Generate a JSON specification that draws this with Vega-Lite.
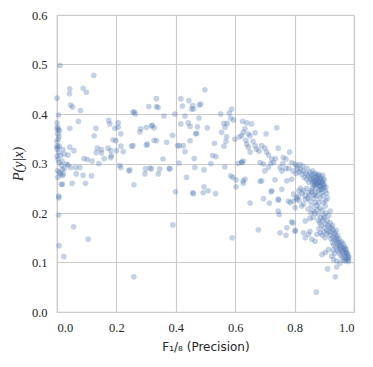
{
"$schema": "https://vega.github.io/schema/vega-lite/v6.json",
"width": 297, "height": 297,
"autosize": {"type": "none"},
"padding": {"left": 57, "top": 15, "right": 19, "bottom": 55},
"background": "white",
"config": {
 "view": {"stroke": "#cccccc", "strokeWidth": 1.25},
 "axis": {"domain": false, "ticks": false, "grid": true, "gridColor": "#cccccc", "gridWidth": 1.2,
  "labelColor": "#262626", "titleColor": "#262626", "titleFontWeight": "normal"}
},
"data": {"values": [
{"x":0.01,"y":0.498},{"x":0.0,"y":0.432},{"x":0.005,"y":0.398},{"x":0.0,"y":0.382},{"x":0.003,"y":0.373},{"x":0.008,"y":0.366},{"x":0.002,"y":0.36},{"x":0.007,"y":0.355},{"x":0.004,"y":0.349},{"x":0.005,"y":0.368},{"x":0.0,"y":0.37},{"x":0.008,"y":0.335},{"x":0.003,"y":0.333},{"x":0.0,"y":0.329},{"x":0.006,"y":0.322},{"x":0.0,"y":0.315},{"x":0.003,"y":0.309},{"x":0.007,"y":0.302},{"x":0.002,"y":0.285},{"x":0.008,"y":0.282},{"x":0.003,"y":0.272},{"x":0.012,"y":0.279},{"x":0.018,"y":0.258},{"x":0.006,"y":0.234},{"x":0.006,"y":0.231},{"x":0.005,"y":0.196},{"x":0.007,"y":0.134},{"x":0.023,"y":0.112},{"x":0.0,"y":0.335},{"x":0.0,"y":0.345},
{"x":0.124,"y":0.478},{"x":0.043,"y":0.451},{"x":0.042,"y":0.441},{"x":0.088,"y":0.452},{"x":0.099,"y":0.444},{"x":0.046,"y":0.418},{"x":0.052,"y":0.414},{"x":0.079,"y":0.407},{"x":0.072,"y":0.385},{"x":0.043,"y":0.371},{"x":0.131,"y":0.371},{"x":0.125,"y":0.356},{"x":0.136,"y":0.331},{"x":0.132,"y":0.322},{"x":0.043,"y":0.333},{"x":0.057,"y":0.326},{"x":0.02,"y":0.328},{"x":0.15,"y":0.328},{"x":0.172,"y":0.331},{"x":0.181,"y":0.326},{"x":0.2,"y":0.326},{"x":0.215,"y":0.335},{"x":0.223,"y":0.324},{"x":0.012,"y":0.316},{"x":0.024,"y":0.319},{"x":0.037,"y":0.317},{"x":0.15,"y":0.321},{"x":0.159,"y":0.31},{"x":0.181,"y":0.312},{"x":0.091,"y":0.31},{"x":0.102,"y":0.308},{"x":0.118,"y":0.305},{"x":0.141,"y":0.3},{"x":0.017,"y":0.305},{"x":0.015,"y":0.297},{"x":0.032,"y":0.299},{"x":0.046,"y":0.292},{"x":0.037,"y":0.297},{"x":0.025,"y":0.29},{"x":0.063,"y":0.292},{"x":0.077,"y":0.292},{"x":0.018,"y":0.288},{"x":0.021,"y":0.279},{"x":0.018,"y":0.276},{"x":0.065,"y":0.279},{"x":0.088,"y":0.276},{"x":0.116,"y":0.275},{"x":0.015,"y":0.258},{"x":0.051,"y":0.26},{"x":0.096,"y":0.26},{"x":0.056,"y":0.172},{"x":0.105,"y":0.147},{"x":0.174,"y":0.387},{"x":0.178,"y":0.38},{"x":0.206,"y":0.382},{"x":0.195,"y":0.371},{"x":0.206,"y":0.373},{"x":0.215,"y":0.36},{"x":0.189,"y":0.348},{"x":0.198,"y":0.346},{"x":0.183,"y":0.316},{"x":0.215,"y":0.292},{"x":0.211,"y":0.296},{"x":0.242,"y":0.285},{"x":0.245,"y":0.287},{"x":0.251,"y":0.335},{"x":0.256,"y":0.336},{"x":0.259,"y":0.257},{"x":0.259,"y":0.071},{"x":0.256,"y":0.404},{"x":0.26,"y":0.404},{"x":0.264,"y":0.4},{"x":0.279,"y":0.364},{"x":0.282,"y":0.37},{"x":0.301,"y":0.373},{"x":0.318,"y":0.376},{"x":0.321,"y":0.377},{"x":0.327,"y":0.372},{"x":0.309,"y":0.415},{"x":0.335,"y":0.431},{"x":0.335,"y":0.415},{"x":0.34,"y":0.413},{"x":0.36,"y":0.396},{"x":0.301,"y":0.337},{"x":0.304,"y":0.339},{"x":0.327,"y":0.347},{"x":0.335,"y":0.346},{"x":0.369,"y":0.343},{"x":0.389,"y":0.357},{"x":0.357,"y":0.309},{"x":0.313,"y":0.291},{"x":0.318,"y":0.289},{"x":0.298,"y":0.289},{"x":0.296,"y":0.279},{"x":0.346,"y":0.289},{"x":0.341,"y":0.279},{"x":0.378,"y":0.29},{"x":0.397,"y":0.4},{"x":0.417,"y":0.431},{"x":0.422,"y":0.416},{"x":0.431,"y":0.396},{"x":0.417,"y":0.38},{"x":0.406,"y":0.336},{"x":0.412,"y":0.336},{"x":0.425,"y":0.336},{"x":0.431,"y":0.324},{"x":0.411,"y":0.301},{"x":0.444,"y":0.427},{"x":0.457,"y":0.417},{"x":0.46,"y":0.41},{"x":0.453,"y":0.41},{"x":0.442,"y":0.382},{"x":0.448,"y":0.375},{"x":0.448,"y":0.346},{"x":0.467,"y":0.36},{"x":0.47,"y":0.361},{"x":0.462,"y":0.31},{"x":0.436,"y":0.272},{"x":0.399,"y":0.243},{"x":0.39,"y":0.176},{"x":0.457,"y":0.241},{"x":0.479,"y":0.418},{"x":0.484,"y":0.42},{"x":0.478,"y":0.392},{"x":0.498,"y":0.449},{"x":0.473,"y":0.374},{"x":0.506,"y":0.372},{"x":0.464,"y":0.292},{"x":0.495,"y":0.287},{"x":0.518,"y":0.3},{"x":0.53,"y":0.341},{"x":0.524,"y":0.316},{"x":0.535,"y":0.314},{"x":0.495,"y":0.253},{"x":0.509,"y":0.245},{"x":0.492,"y":0.241},{"x":0.534,"y":0.239},{"x":0.459,"y":0.239},{"x":0.38,"y":0.289},
{"x":0.551,"y":0.4},{"x":0.58,"y":0.402},{"x":0.588,"y":0.41},{"x":0.585,"y":0.392},{"x":0.562,"y":0.381},{"x":0.573,"y":0.381},{"x":0.594,"y":0.388},{"x":0.554,"y":0.363},{"x":0.566,"y":0.373},{"x":0.571,"y":0.354},{"x":0.614,"y":0.354},{"x":0.569,"y":0.345},{"x":0.562,"y":0.335},{"x":0.599,"y":0.349},{"x":0.627,"y":0.363},{"x":0.636,"y":0.347},{"x":0.639,"y":0.339},{"x":0.565,"y":0.293},{"x":0.61,"y":0.3},{"x":0.622,"y":0.302},{"x":0.627,"y":0.305},{"x":0.585,"y":0.275},{"x":0.592,"y":0.272},{"x":0.603,"y":0.267},{"x":0.627,"y":0.265},{"x":0.603,"y":0.253},{"x":0.633,"y":0.268},{"x":0.627,"y":0.26},{"x":0.684,"y":0.264},{"x":0.59,"y":0.15},{"x":0.678,"y":0.166},
{"x":0.625,"y":0.385},{"x":0.639,"y":0.382},{"x":0.655,"y":0.38},{"x":0.633,"y":0.37},{"x":0.644,"y":0.36},{"x":0.667,"y":0.362},{"x":0.65,"y":0.356},{"x":0.622,"y":0.356},{"x":0.704,"y":0.36},{"x":0.74,"y":0.372},{"x":0.644,"y":0.333},{"x":0.667,"y":0.336},{"x":0.672,"y":0.329},{"x":0.689,"y":0.336},{"x":0.7,"y":0.331},{"x":0.706,"y":0.323},{"x":0.712,"y":0.317},{"x":0.65,"y":0.323},{"x":0.745,"y":0.331},{"x":0.783,"y":0.323},{"x":0.762,"y":0.312},{"x":0.771,"y":0.309},{"x":0.622,"y":0.303},{"x":0.684,"y":0.302},{"x":0.695,"y":0.299},{"x":0.723,"y":0.309},{"x":0.729,"y":0.302},{"x":0.712,"y":0.292},{"x":0.7,"y":0.285},{"x":0.751,"y":0.292},{"x":0.757,"y":0.285},{"x":0.79,"y":0.302},{"x":0.802,"y":0.299},{"x":0.807,"y":0.295},{"x":0.689,"y":0.265},{"x":0.734,"y":0.267},{"x":0.774,"y":0.265},{"x":0.79,"y":0.268},{"x":0.723,"y":0.245},{"x":0.757,"y":0.248},{"x":0.695,"y":0.229},{"x":0.745,"y":0.228},{"x":0.65,"y":0.22},{"x":0.796,"y":0.238},{"x":0.807,"y":0.231},{"x":0.779,"y":0.224},{"x":0.715,"y":0.22},{"x":0.721,"y":0.243},{"x":0.746,"y":0.226},{"x":0.745,"y":0.204},{"x":0.748,"y":0.197},{"x":0.751,"y":0.16},{"x":0.771,"y":0.155},{"x":0.774,"y":0.17},{"x":0.794,"y":0.18},{"x":0.802,"y":0.165},{"x":0.785,"y":0.221},{"x":0.796,"y":0.224},{"x":0.807,"y":0.228},{"x":0.813,"y":0.234},{"x":0.66,"y":0.345},{"x":0.68,"y":0.325},{"x":0.72,"y":0.3},{"x":0.735,"y":0.31},{"x":0.76,"y":0.3},{"x":0.77,"y":0.29},{"x":0.78,"y":0.29},{"x":0.795,"y":0.285},{"x":0.805,"y":0.28},
{"x":0.81,"y":0.29},{"x":0.815,"y":0.283},{"x":0.82,"y":0.288},{"x":0.825,"y":0.278},{"x":0.83,"y":0.285},{"x":0.833,"y":0.272},{"x":0.838,"y":0.28},{"x":0.84,"y":0.268},{"x":0.845,"y":0.277},{"x":0.848,"y":0.262},{"x":0.85,"y":0.272},{"x":0.852,"y":0.282},{"x":0.855,"y":0.268},{"x":0.858,"y":0.276},{"x":0.86,"y":0.26},{"x":0.862,"y":0.27},{"x":0.865,"y":0.278},{"x":0.867,"y":0.265},{"x":0.87,"y":0.272},{"x":0.872,"y":0.258},{"x":0.875,"y":0.268},{"x":0.877,"y":0.275},{"x":0.88,"y":0.262},{"x":0.882,"y":0.27},{"x":0.885,"y":0.255},{"x":0.887,"y":0.265},{"x":0.89,"y":0.27},{"x":0.892,"y":0.258},{"x":0.895,"y":0.265},{"x":0.897,"y":0.25},{"x":0.9,"y":0.258},{"x":0.903,"y":0.245},{"x":0.905,"y":0.252},{"x":0.908,"y":0.24},{"x":0.87,"y":0.28},{"x":0.86,"y":0.285},{"x":0.88,"y":0.278},{"x":0.885,"y":0.275},{"x":0.875,"y":0.26},{"x":0.865,"y":0.255},{"x":0.89,"y":0.248},{"x":0.895,"y":0.276},{"x":0.9,"y":0.268},{"x":0.842,"y":0.29},{"x":0.828,"y":0.295},{"x":0.818,"y":0.298},
{"x":0.862,"y":0.264},{"x":0.868,"y":0.258},{"x":0.873,"y":0.266},{"x":0.878,"y":0.256},{"x":0.883,"y":0.263},{"x":0.888,"y":0.253},{"x":0.893,"y":0.262},{"x":0.898,"y":0.255},{"x":0.871,"y":0.25},{"x":0.886,"y":0.247},{"x":0.858,"y":0.242},{"x":0.866,"y":0.236},
{"x":0.815,"y":0.245},{"x":0.82,"y":0.25},{"x":0.825,"y":0.24},{"x":0.83,"y":0.245},{"x":0.835,"y":0.235},{"x":0.84,"y":0.25},{"x":0.845,"y":0.23},{"x":0.847,"y":0.241},{"x":0.85,"y":0.235},{"x":0.855,"y":0.245},{"x":0.836,"y":0.228},{"x":0.824,"y":0.214},{"x":0.802,"y":0.211},{"x":0.852,"y":0.224},{"x":0.858,"y":0.214},{"x":0.863,"y":0.204},{"x":0.875,"y":0.207},{"x":0.869,"y":0.221},{"x":0.881,"y":0.221},{"x":0.897,"y":0.221},{"x":0.903,"y":0.214},{"x":0.92,"y":0.204},{"x":0.863,"y":0.191},{"x":0.852,"y":0.189},{"x":0.79,"y":0.182},{"x":0.836,"y":0.184},{"x":0.865,"y":0.23},{"x":0.87,"y":0.24},{"x":0.86,"y":0.25},{"x":0.875,"y":0.235},{"x":0.88,"y":0.245},{"x":0.885,"y":0.23},{"x":0.89,"y":0.24},{"x":0.895,"y":0.235},{"x":0.91,"y":0.23},{"x":0.905,"y":0.225},{"x":0.875,"y":0.215},{"x":0.868,"y":0.2},{"x":0.88,"y":0.198},{"x":0.885,"y":0.21},{"x":0.893,"y":0.205},{"x":0.905,"y":0.2},{"x":0.915,"y":0.195},{"x":0.9,"y":0.19},{"x":0.855,"y":0.2},{"x":0.845,"y":0.208},{"x":0.815,"y":0.225},{"x":0.83,"y":0.218},
{"x":0.802,"y":0.163},{"x":0.83,"y":0.16},{"x":0.836,"y":0.15},{"x":0.847,"y":0.157},{"x":0.852,"y":0.163},{"x":0.858,"y":0.147},{"x":0.869,"y":0.143},{"x":0.875,"y":0.157},{"x":0.88,"y":0.185},{"x":0.885,"y":0.18},{"x":0.89,"y":0.175},{"x":0.895,"y":0.185},{"x":0.9,"y":0.17},{"x":0.905,"y":0.178},{"x":0.91,"y":0.165},{"x":0.882,"y":0.168},{"x":0.887,"y":0.16},{"x":0.893,"y":0.155},{"x":0.898,"y":0.162},{"x":0.903,"y":0.15},{"x":0.908,"y":0.158},{"x":0.912,"y":0.175},{"x":0.915,"y":0.162},{"x":0.918,"y":0.17},{"x":0.92,"y":0.155},{"x":0.922,"y":0.148},{"x":0.925,"y":0.16},{"x":0.928,"y":0.14},{"x":0.93,"y":0.15},{"x":0.932,"y":0.135},{"x":0.935,"y":0.145},{"x":0.937,"y":0.155},{"x":0.94,"y":0.13},{"x":0.942,"y":0.14},{"x":0.945,"y":0.125},{"x":0.947,"y":0.135},{"x":0.95,"y":0.12},{"x":0.952,"y":0.13},{"x":0.955,"y":0.115},{"x":0.957,"y":0.125},{"x":0.96,"y":0.11},{"x":0.962,"y":0.12},{"x":0.965,"y":0.105},{"x":0.967,"y":0.115},{"x":0.97,"y":0.11},{"x":0.972,"y":0.12},{"x":0.975,"y":0.105},{"x":0.977,"y":0.115},{"x":0.98,"y":0.11},{"x":0.982,"y":0.102},{"x":0.93,"y":0.125},{"x":0.935,"y":0.118},{"x":0.94,"y":0.15},{"x":0.945,"y":0.145},{"x":0.95,"y":0.14},{"x":0.955,"y":0.135},{"x":0.96,"y":0.13},{"x":0.965,"y":0.125},{"x":0.97,"y":0.128},{"x":0.975,"y":0.12},{"x":0.925,"y":0.17},{"x":0.93,"y":0.165},{"x":0.935,"y":0.16},{"x":0.945,"y":0.155},{"x":0.95,"y":0.148},{"x":0.958,"y":0.142},{"x":0.963,"y":0.138},{"x":0.968,"y":0.132},{"x":0.973,"y":0.127},{"x":0.978,"y":0.118},{"x":0.983,"y":0.112},{"x":0.892,"y":0.116},{"x":0.903,"y":0.12},{"x":0.914,"y":0.126},{"x":0.925,"y":0.113},{"x":0.931,"y":0.106},{"x":0.942,"y":0.103},{"x":0.953,"y":0.099},{"x":0.97,"y":0.103},{"x":0.981,"y":0.106},{"x":0.911,"y":0.087},{"x":0.942,"y":0.091},{"x":0.937,"y":0.071},{"x":0.873,"y":0.04},{"x":0.91,"y":0.185},{"x":0.92,"y":0.18},{"x":0.928,"y":0.175},{"x":0.898,"y":0.195},{"x":0.888,"y":0.19},{"x":0.94,"y":0.165}
]},
"mark": {"type": "circle", "color": "#4c72b0", "opacity": 0.32, "size": 32},
"encoding": {
 "x": {"field": "x", "type": "quantitative", "scale": {"domain": [0, 1], "nice": false},
  "axis": {"values": [0, 0.2, 0.4, 0.6, 0.8, 1], "format": ".1f", "labelPadding": 9,
   "labelFont": "Liberation Serif", "labelFontSize": 12.5,
   "title": "F₁/₈ (Precision)", "titleFont": "DejaVu Sans", "titleFontSize": 12, "titlePadding": 8}},
 "y": {"field": "y", "type": "quantitative", "scale": {"domain": [0, 0.6], "nice": false},
  "axis": {"values": [0, 0.1, 0.2, 0.3, 0.4, 0.5, 0.6], "format": ".1f", "labelPadding": 10,
   "labelFont": "Liberation Serif", "labelFontSize": 12.5,
   "title": "P(y|x)", "titleFont": "Liberation Serif", "titleFontStyle": "italic", "titleFontSize": 14, "titlePadding": 6}}
}
}
